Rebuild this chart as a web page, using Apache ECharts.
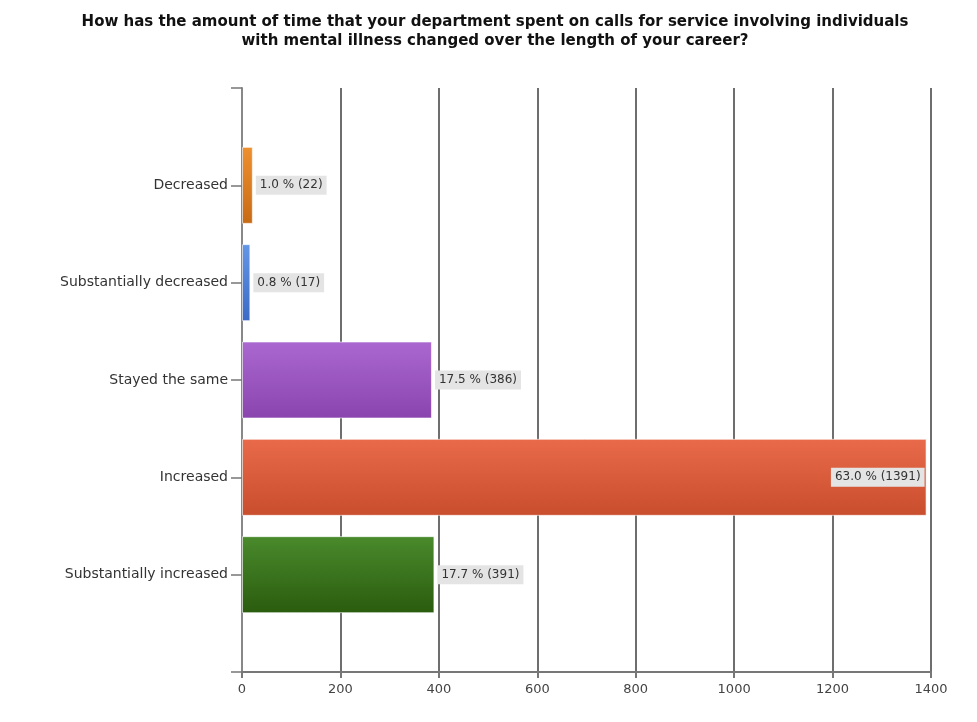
<!DOCTYPE html>
<html>
<head>
<meta charset="utf-8">
<script src="https://cdn.jsdelivr.net/npm/echarts@6/dist/echarts.min.js"></script>
<style>html,body{margin:0;padding:0;background:#fff;}#c{width:977px;height:722px;}</style>
</head>
<body>
<div id="c"></div>
<script>
var titleLines = ['How has the amount of time that your department spent on calls for service involving individuals', 'with mental illness changed over the length of your career?'];
var categories = ['Decreased', 'Substantially decreased', 'Stayed the same', 'Increased', 'Substantially increased'];
var counts = [22, 17, 386, 1391, 391];
var percents = ['1.0', '0.8', '17.5', '63.0', '17.7'];
var xTicks = [0, 200, 400, 600, 800, 1000, 1200, 1400];
var topColors = ['#ee9030', '#6496e6', '#ab68d0', '#e86a4a', '#4a8a2c'];
var bottomColors = ['#c76a14', '#3a6ac6', '#8a44ae', '#c94e2e', '#2a5c0e'];

var chart = echarts.init(document.getElementById('c'));
var cats = [''].concat(categories).concat(['']);
var data = [null];
for (var i = 0; i < categories.length; i++) {
  data.push({
    value: counts[i],
    pct: percents[i],
    itemStyle: {
      color: new echarts.graphic.LinearGradient(0, 0, 0, 1, [
        {offset: 0, color: topColors[i]},
        {offset: 1, color: bottomColors[i]}
      ])
    },
    label: counts[i] > 1000 ? {position: 'insideRight', distance: 2} : {position: 'right', distance: 3}
  });
}
data.push(null);

chart.setOption({
  animation: false,
  backgroundColor: '#fff',
  title: {
    text: titleLines.join('\n'),
    left: 490, top: 8, textAlign: 'center',
    textStyle: {fontFamily: 'DejaVu Sans', fontSize: 15, fontWeight: 'bold', color: '#111', lineHeight: 19}
  },
  grid: {left: 242, right: 46, top: 88, bottom: 50, containLabel: false},
  xAxis: {
    type: 'value', min: xTicks[0], max: xTicks[xTicks.length - 1], interval: 200,
    axisLine: {show: true, lineStyle: {color: '#777', width: 2}},
    axisTick: {show: true, length: 6, lineStyle: {color: '#777', width: 2}},
    axisLabel: {color: '#444', fontSize: 13, fontFamily: 'DejaVu Sans', margin: 11,
      formatter: function (v) { return String(v); }},
    splitLine: {show: true, lineStyle: {color: '#6e6e6e', width: 2}}
  },
  yAxis: {
    type: 'category', data: cats, inverse: true, boundaryGap: false,
    axisLine: {show: true, lineStyle: {color: '#888', width: 2}},
    axisTick: {show: true, length: 11, lineStyle: {color: '#777', width: 1.5}},
    axisLabel: {color: '#333', fontSize: 14, fontFamily: 'DejaVu Sans', margin: 14, interval: 0},
    splitLine: {show: false}
  },
  series: [{
    type: 'bar',
    data: data,
    barWidth: 77,
    itemStyle: {borderColor: 'rgba(255,255,255,0.6)', borderWidth: 1},
    label: {
      show: true,
      formatter: function (p) { return p.data.pct + ' % (' + p.data.value + ')'; },
      backgroundColor: '#e4e4e4',
      padding: [4, 4, 3, 4],
      color: '#333',
      fontSize: 12,
      fontFamily: 'DejaVu Sans'
    }
  }]
});
</script>
</body>
</html>
